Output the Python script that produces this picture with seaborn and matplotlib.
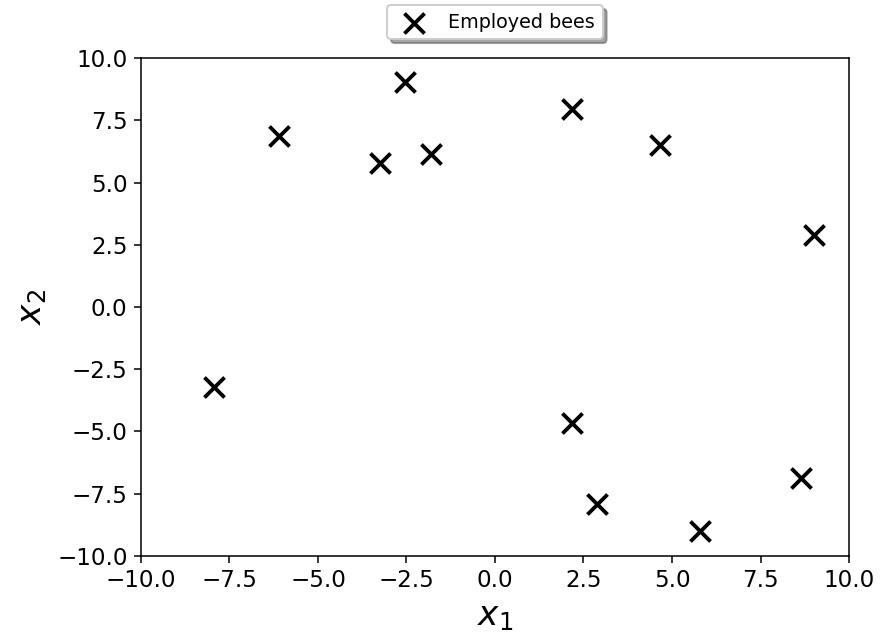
import matplotlib
matplotlib.use("Agg")
import matplotlib.pyplot as plt
import seaborn as sns
import pandas as pd

# Positions of the employed bees in the search space
x1 = [-6.10, -2.54, -3.25, -1.81, 2.18, 4.66, 9.01, -7.94, 2.18, 2.88, 5.79, 8.64]
x2 = [6.87, 9.04, 5.78, 6.14, 7.95, 6.51, 2.89, -3.21, -4.66, -7.91, -9.00, -6.87]
label = "Employed bees"

df = pd.DataFrame({"x1": x1, "x2": x2})

dpi = 137.66
fig, ax = plt.subplots(figsize=(881 / dpi, 636 / dpi), dpi=dpi)
fig.subplots_adjust(left=0.160, right=0.9637, top=0.9088, bottom=0.1258)

sns.scatterplot(data=df, x="x1", y="x2", ax=ax, marker="x", color="black",
                s=110, linewidth=2.0, label=label)

ax.set_xlim(-10, 10)
ax.set_ylim(-10, 10)
ticks = [-10.0, -7.5, -5.0, -2.5, 0.0, 2.5, 5.0, 7.5, 10.0]
ax.set_xticks(ticks)
ax.set_yticks(ticks)
ax.set_xticklabels([f"{t:.1f}".replace("-", "\u2212") for t in ticks], fontsize=12)
ax.set_yticklabels([f"{t:.1f}".replace("-", "\u2212") for t in ticks], fontsize=12)
ax.set_xlabel(r"$x_1$", fontsize=18)
ax.set_ylabel(r"$x_2$", fontsize=18)

ax.legend(loc="center", bbox_to_anchor=(0.5, 1.072), shadow=True, fancybox=True,
          fontsize=10)

fig.savefig("out.png", dpi=dpi)
